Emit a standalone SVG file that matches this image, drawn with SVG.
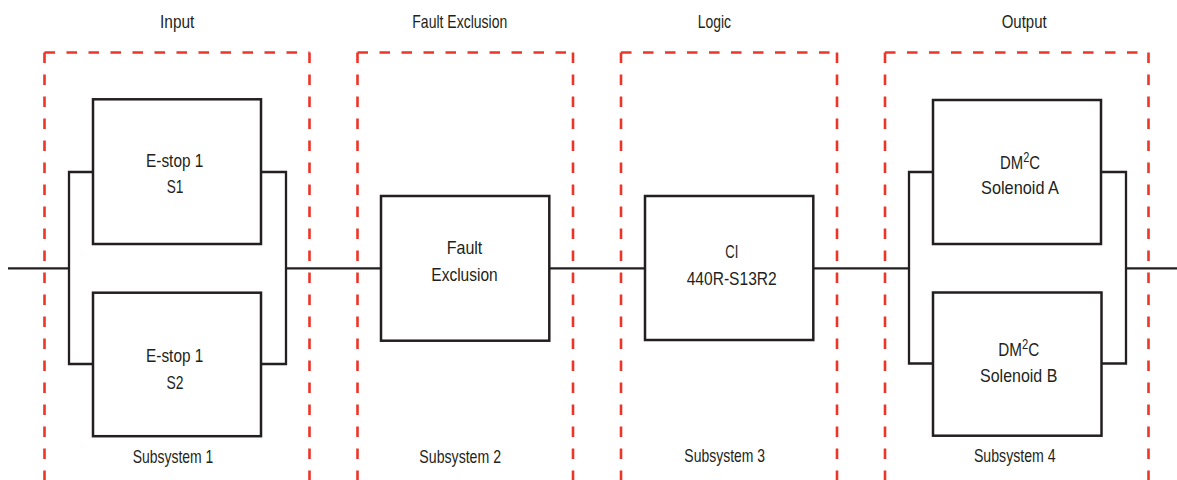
<svg xmlns="http://www.w3.org/2000/svg" width="1177" height="480" viewBox="0 0 1177 480">
<style>
.bg{fill:#ffffff}
.zone{fill:none;stroke:#ee3427;stroke-width:2.6;stroke-dasharray:10.5 11.5}
.box{fill:#ffffff;stroke:#231f20;stroke-width:2.5}
.wire{fill:none;stroke:#231f20;stroke-width:2.3}
text{font-family:"Liberation Sans",Arial,sans-serif;font-size:19px;fill:#231f20;text-anchor:middle}
.sup{font-size:14px}
</style>
<rect class="bg" x="0" y="0" width="1177" height="480"/>
<g id="zones">
  <g id="zone-input">
    <path class="zone" d="M44.5,52.5 H309.5"/><path class="zone" d="M44.5,52.5 V480"/><path class="zone" d="M309.5,52.5 V480"/>
    <text x="177.2" y="27.5" textLength="34.3" lengthAdjust="spacingAndGlyphs">Input</text>
    <text x="173" y="463.3" textLength="80.7" lengthAdjust="spacingAndGlyphs">Subsystem 1</text>
  </g>
  <g id="zone-fault">
    <path class="zone" d="M357.5,52.5 H573"/><path class="zone" d="M357.5,52.5 V480"/><path class="zone" d="M573,52.5 V480"/>
    <text x="459.8" y="27.5" textLength="95" lengthAdjust="spacingAndGlyphs">Fault Exclusion</text>
    <text x="460.2" y="463.3" textLength="81.7" lengthAdjust="spacingAndGlyphs">Subsystem 2</text>
  </g>
  <g id="zone-logic">
    <path class="zone" d="M621,52.5 H837"/><path class="zone" d="M621,52.5 V480"/><path class="zone" d="M837,52.5 V480"/>
    <text x="714.3" y="27.5" textLength="33.3" lengthAdjust="spacingAndGlyphs">Logic</text>
    <text x="724.7" y="461.7" textLength="80.7" lengthAdjust="spacingAndGlyphs">Subsystem 3</text>
  </g>
  <g id="zone-output">
    <path class="zone" d="M885,52.5 H1148.5"/><path class="zone" d="M885,52.5 V480"/><path class="zone" d="M1148.5,52.5 V480"/>
    <text x="1024.2" y="27.5" textLength="45" lengthAdjust="spacingAndGlyphs">Output</text>
    <text x="1014.8" y="461.7" textLength="81.7" lengthAdjust="spacingAndGlyphs">Subsystem 4</text>
  </g>
</g>
<g id="connectors">
  <path class="wire" d="M8,268.3 H69"/>
  <path class="wire" d="M93,172 H69 V364 H93"/>
  <path class="wire" d="M261,172 H286 V364 H261"/>
  <path class="wire" d="M286,268.3 H381"/>
  <path class="wire" d="M549,268.3 H645"/>
  <path class="wire" d="M813,268.3 H909"/>
  <path class="wire" d="M933,172 H909 V363.5 H933"/>
  <path class="wire" d="M1101,172 H1126 V363.5 H1101"/>
  <path class="wire" d="M1126,268.3 H1177"/>
</g>
<g id="estop-s1">
  <rect class="box" x="93" y="99.3" width="168" height="144.7"/>
  <text x="174.7" y="166.7" textLength="57.3" lengthAdjust="spacingAndGlyphs">E-stop 1</text>
  <text x="175" y="193.3" textLength="16.7" lengthAdjust="spacingAndGlyphs">S1</text>
</g>
<g id="estop-s2">
  <rect class="box" x="93" y="292.7" width="168" height="143.5"/>
  <text x="174.7" y="362" textLength="57.3" lengthAdjust="spacingAndGlyphs">E-stop 1</text>
  <text x="175" y="389.3" textLength="17" lengthAdjust="spacingAndGlyphs">S2</text>
</g>
<g id="fault-exclusion">
  <rect class="box" x="381" y="196" width="168.3" height="144.7"/>
  <text x="464.5" y="254" textLength="35.7" lengthAdjust="spacingAndGlyphs">Fault</text>
  <text x="464.5" y="280.7" textLength="66.3" lengthAdjust="spacingAndGlyphs">Exclusion</text>
</g>
<g id="ci-logic">
  <rect class="box" x="645" y="196" width="168.3" height="144"/>
  <text x="731.8" y="258.3" textLength="13" lengthAdjust="spacingAndGlyphs">CI</text>
  <text x="731.7" y="285" textLength="90" lengthAdjust="spacingAndGlyphs">440R-S13R2</text>
</g>
<g id="solenoid-a">
  <rect class="box" x="933" y="100" width="168" height="144"/>
  <text x="1020" y="169" textLength="40" lengthAdjust="spacingAndGlyphs">DM<tspan class="sup" dy="-7">2</tspan><tspan dy="7">C</tspan></text>
  <text x="1020" y="194.3" textLength="78" lengthAdjust="spacingAndGlyphs">Solenoid A</text>
</g>
<g id="solenoid-b">
  <rect class="box" x="933" y="292.5" width="168.5" height="143.2"/>
  <text x="1018.8" y="356" textLength="41" lengthAdjust="spacingAndGlyphs">DM<tspan class="sup" dy="-7">2</tspan><tspan dy="7">C</tspan></text>
  <text x="1018.7" y="381.7" textLength="77.3" lengthAdjust="spacingAndGlyphs">Solenoid B</text>
</g>
</svg>
